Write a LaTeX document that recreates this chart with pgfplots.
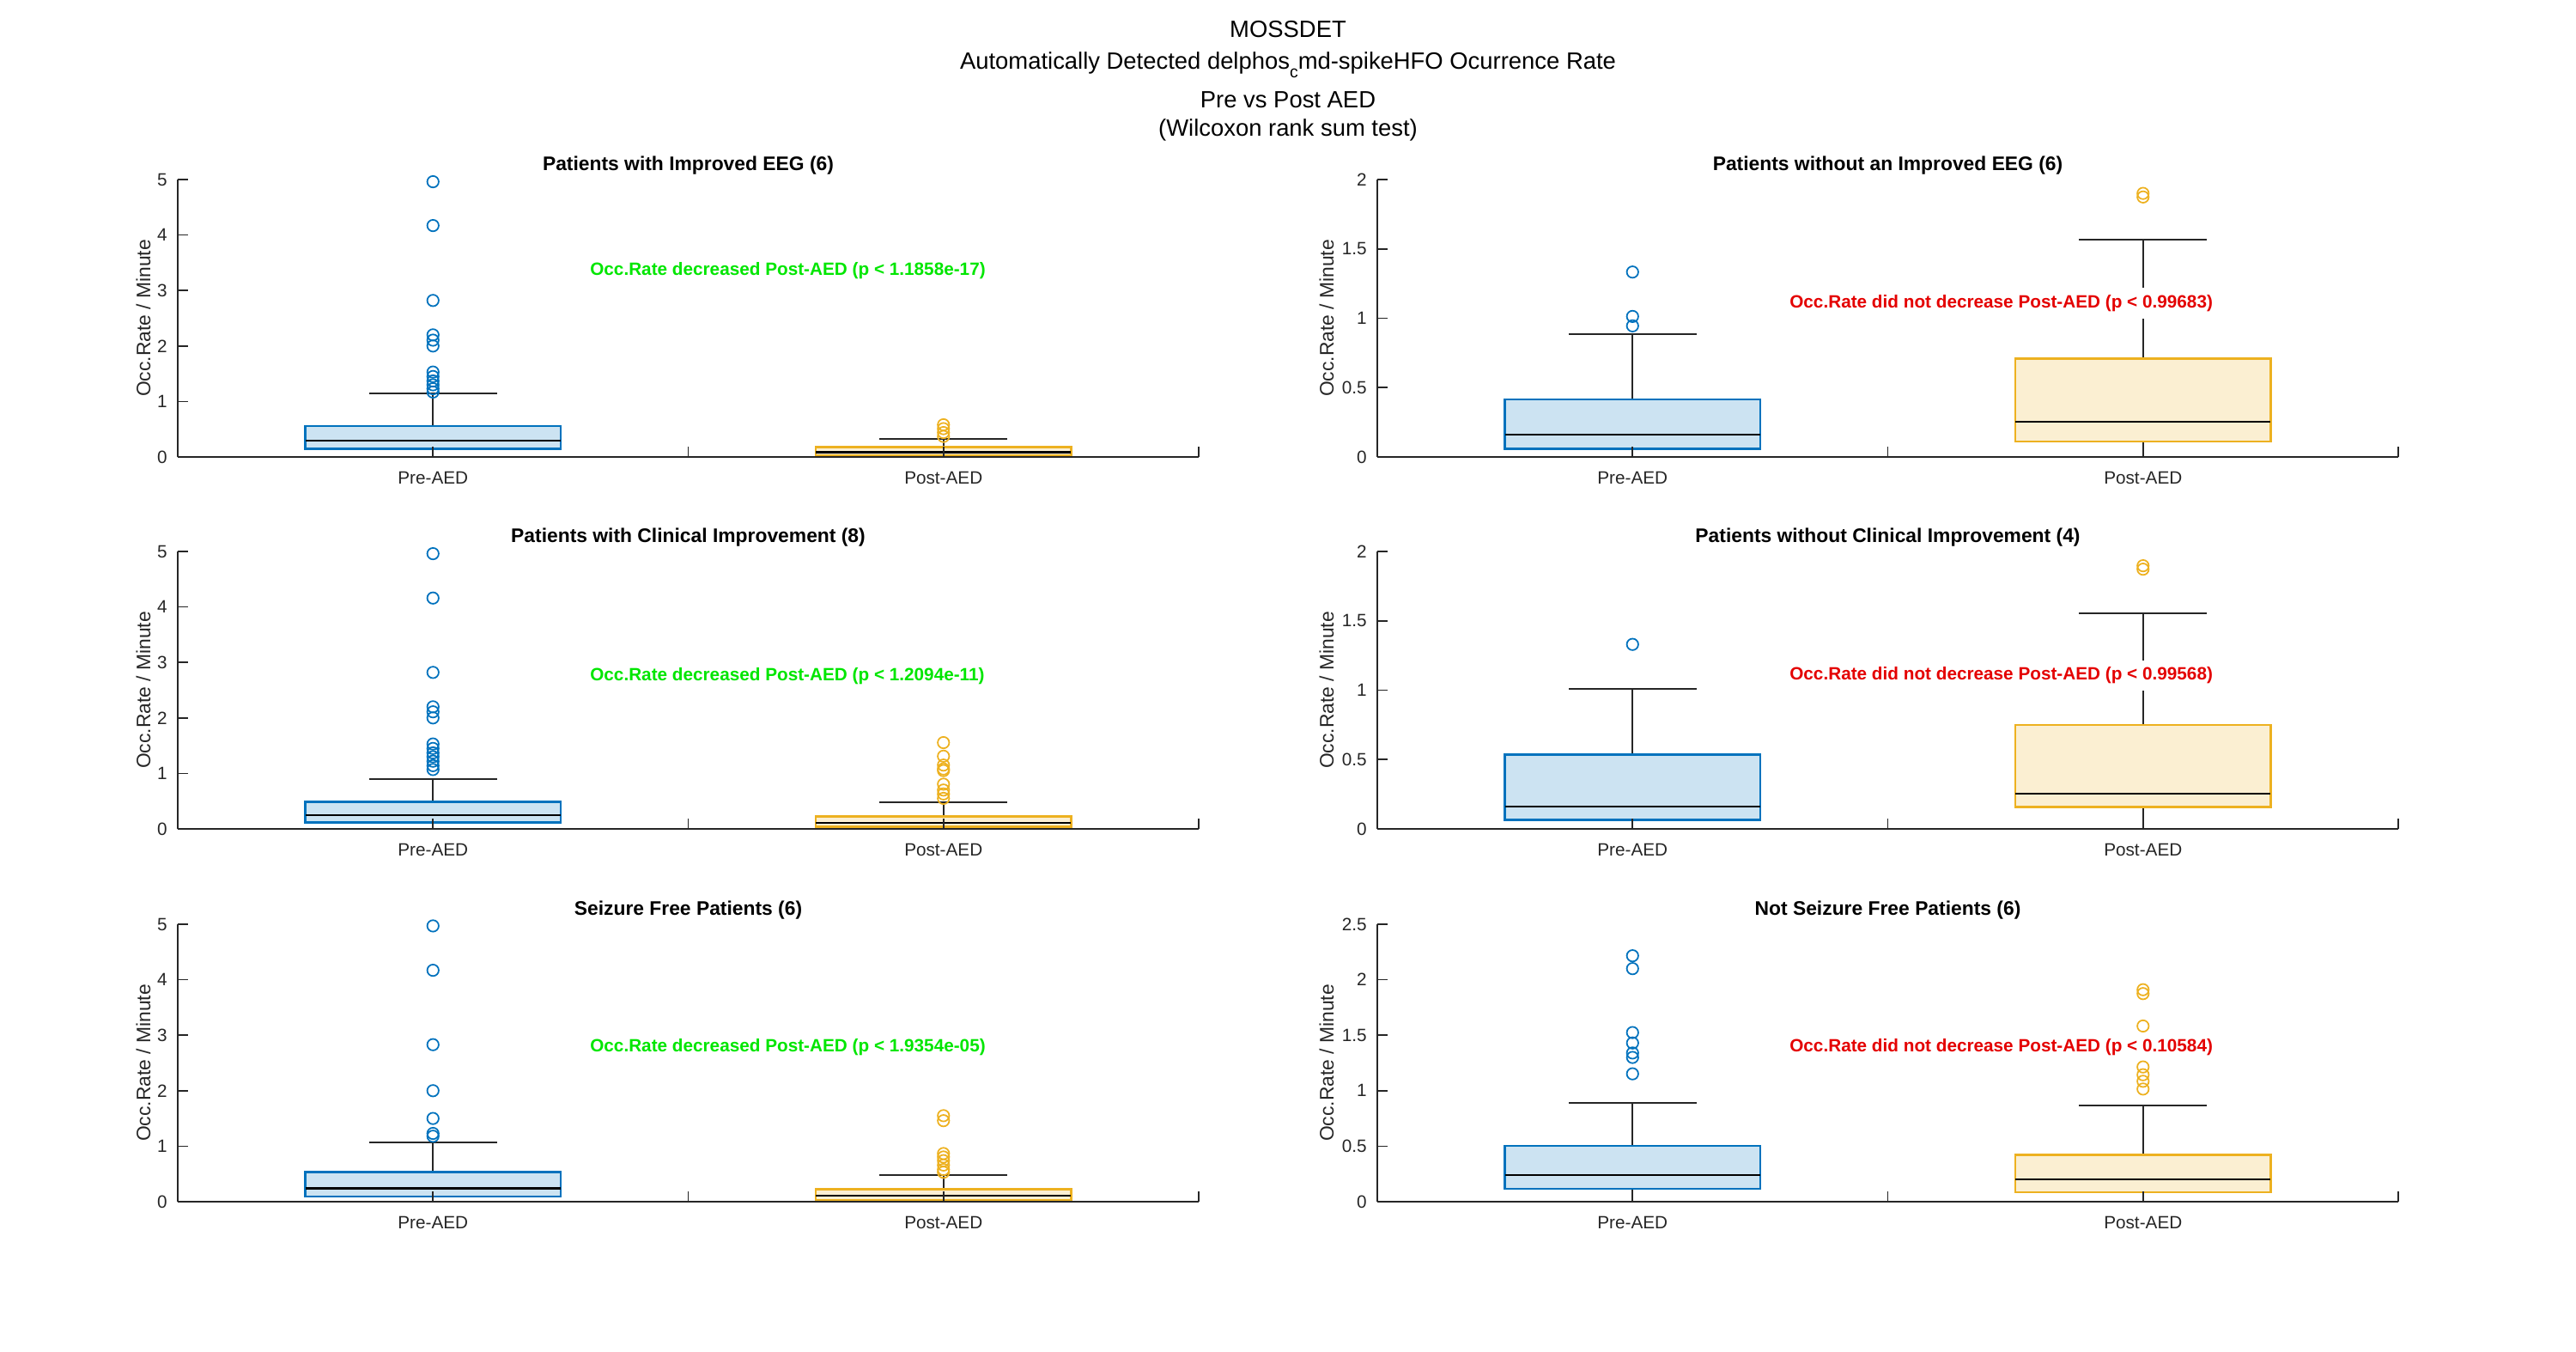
\documentclass[border=0pt]{standalone}
\usepackage{fontspec}
\setmainfont{Liberation Sans}
\usepackage{pgfplots}
\pgfplotsset{compat=1.18}
\usepgfplotslibrary{statistics}

\definecolor{mblue}{RGB}{0,114,189}
\definecolor{mbluel}{RGB}{204,227,242}
\definecolor{myel}{RGB}{237,177,32}
\definecolor{myell}{RGB}{251,239,210}
\definecolor{tgray}{RGB}{38,38,38}
\definecolor{sigg}{RGB}{0,230,0}
\definecolor{sigr}{RGB}{228,0,0}

\pgfplotsset{
  panel/.style={
    scale only axis, width=11.89cm, height=3.23cm,
    xmin=0.5, xmax=2.5, ymin=0,
    axis lines*=left, axis on top, clip=false,
    axis line style={draw=tgray, line width=0.45pt},
    tick align=inside, major tick length=0.12cm,
    tick style={draw=tgray, line width=0.45pt},
    xtick={1,1.5,2,2.5}, xticklabels={Pre-AED,,Post-AED,},
    ticklabel style={font=\fontsize{5.9}{7}\selectfont, text=tgray},
    xticklabel style={yshift=-0.05cm},
    /pgf/number format/assume math mode=true,
    ylabel={Occ.Rate / Minute},
    ylabel style={font=\fontsize{6.5}{7.5}\selectfont, text=tgray,
      at={(axis description cs:#1,0.5)}, anchor=center, rotate=0},
    every axis title shift=0pt,
    title style={font=\bfseries\fontsize{6.5}{7.5}\selectfont,
      at={(axis description cs:0.5,1)}, anchor=base, yshift=0.105cm},
    boxplot/draw direction=y,
    boxplot/box extend=0.5, boxplot/whisker extend=0.25,
    boxplot/every box/.style={line width=0.7pt},
    boxplot/every whisker/.style={draw=tgray, line width=0.5pt},
    boxplot/every median/.style={draw=black, line width=0.7pt},
  },
  lpanel/.style={panel=-0.0336},
  rpanel/.style={panel=-0.0497},
  pre/.style={draw=mblue, fill=mbluel, mark=o, mark size=1.9pt,
    mark options={draw=mblue, fill=none, line width=0.5pt, solid}},
  post/.style={draw=myel, fill=myell, mark=o, mark size=1.9pt,
    mark options={draw=myel, fill=none, line width=0.5pt, solid}},
}
\tikzset{
  sigtext/.style={anchor=west, fill=white, inner xsep=0.04cm, inner ysep=0.08cm,
    font=\bfseries\fontsize{5.9}{7}\selectfont},
}

\begin{document}
\begin{tikzpicture}
\path[use as bounding box] (0,0) rectangle (30,15.73);

% figure title
\node[anchor=base, font=\fontsize{7.8}{9}\selectfont] at (15,15.29) {MOSSDET};
\node[anchor=base, font=\fontsize{7.8}{9}\selectfont] at (15,14.92)
  {Automatically Detected delphos\raisebox{-2.6pt}{\fontsize{5.5}{6}\selectfont c}md-spikeHFO Ocurrence Rate};
\node[anchor=base, font=\fontsize{7.8}{9}\selectfont] at (15,14.47) {Pre vs Post AED};
\node[anchor=base, font=\fontsize{7.8}{9}\selectfont] at (15,14.14) {(Wilcoxon rank sum test)};

% row 1, left
\begin{axis}[lpanel, at={(2.07cm,10.41cm)}, anchor=south west,
  ymax=5, ytick={0,1,2,3,4,5}, title={Patients with Improved EEG (6)}]
\addplot[pre, boxplot prepared={draw position=1, lower whisker=0, lower quartile=0.15,
  median=0.29, upper quartile=0.557, upper whisker=1.14}]
  coordinates {(1,4.96) (1,4.17) (1,2.82) (1,2.20) (1,2.105) (1,2.0) (1,1.53)
               (1,1.45) (1,1.37) (1,1.30) (1,1.23) (1,1.17)};
\addplot[post, boxplot prepared={draw position=2, lower whisker=0, lower quartile=0.03,
  median=0.083, upper quartile=0.175, upper whisker=0.325}]
  coordinates {(2,0.58) (2,0.51) (2,0.44) (2,0.37)};
\node[sigtext, text=sigg] at (axis cs:1.30,3.36) {Occ.Rate decreased Post-AED (p < 1.1858e-17)};
\end{axis}

% row 1, right
\begin{axis}[rpanel, at={(16.04cm,10.41cm)}, anchor=south west,
  ymax=2, ytick={0,0.5,1,1.5,2}, title={Patients without an Improved EEG (6)}]
\addplot[pre, boxplot prepared={draw position=1, lower whisker=0, lower quartile=0.06,
  median=0.161, upper quartile=0.415, upper whisker=0.884}]
  coordinates {(1,1.333) (1,1.013) (1,0.945)};
\addplot[post, boxplot prepared={draw position=2, lower whisker=0, lower quartile=0.111,
  median=0.254, upper quartile=0.708, upper whisker=1.565}]
  coordinates {(2,1.90) (2,1.874)};
\node[sigtext, text=sigr] at (axis cs:1.30,1.108) {Occ.Rate did not decrease Post-AED (p < 0.99683)};
\end{axis}

% row 2, left
\begin{axis}[lpanel, at={(2.07cm,6.08cm)}, anchor=south west,
  ymax=5, ytick={0,1,2,3,4,5}, title={Patients with Clinical Improvement (8)}]
\addplot[pre, boxplot prepared={draw position=1, lower whisker=0, lower quartile=0.119,
  median=0.248, upper quartile=0.486, upper whisker=0.899}]
  coordinates {(1,4.96) (1,4.16) (1,2.82) (1,2.20) (1,2.11) (1,2.0) (1,1.53)
               (1,1.45) (1,1.37) (1,1.30) (1,1.22) (1,1.14) (1,1.07)};
\addplot[post, boxplot prepared={draw position=2, lower whisker=0, lower quartile=0.041,
  median=0.108, upper quartile=0.222, upper whisker=0.48}]
  coordinates {(2,1.555) (2,1.31) (2,1.15) (2,1.08) (2,1.05) (2,0.806)
               (2,0.70) (2,0.63) (2,0.55)};
\node[sigtext, text=sigg] at (axis cs:1.30,2.76) {Occ.Rate decreased Post-AED (p < 1.2094e-11)};
\end{axis}

% row 2, right
\begin{axis}[rpanel, at={(16.04cm,6.08cm)}, anchor=south west,
  ymax=2, ytick={0,0.5,1,1.5,2}, title={Patients without Clinical Improvement (4)}]
\addplot[pre, boxplot prepared={draw position=1, lower whisker=0, lower quartile=0.064,
  median=0.161, upper quartile=0.535, upper whisker=1.01}]
  coordinates {(1,1.33)};
\addplot[post, boxplot prepared={draw position=2, lower whisker=0, lower quartile=0.157,
  median=0.254, upper quartile=0.75, upper whisker=1.556}]
  coordinates {(2,1.897) (2,1.872)};
\node[sigtext, text=sigr] at (axis cs:1.30,1.106) {Occ.Rate did not decrease Post-AED (p < 0.99568)};
\end{axis}

% row 3, left
\begin{axis}[lpanel, at={(2.07cm,1.74cm)}, anchor=south west,
  ymax=5, ytick={0,1,2,3,4,5}, title={Seizure Free Patients (6)}]
\addplot[pre, boxplot prepared={draw position=1, lower whisker=0, lower quartile=0.093,
  median=0.238, upper quartile=0.532, upper whisker=1.074}]
  coordinates {(1,4.97) (1,4.17) (1,2.83) (1,2.0) (1,1.50) (1,1.23) (1,1.18)};
\addplot[post, boxplot prepared={draw position=2, lower whisker=0, lower quartile=0.031,
  median=0.108, upper quartile=0.222, upper whisker=0.48}]
  coordinates {(2,1.55) (2,1.46) (2,0.868) (2,0.806) (2,0.74) (2,0.66)
               (2,0.58) (2,0.53)};
\node[sigtext, text=sigg] at (axis cs:1.30,2.78) {Occ.Rate decreased Post-AED (p < 1.9354e-05)};
\end{axis}

% row 3, right
\begin{axis}[rpanel, at={(16.04cm,1.74cm)}, anchor=south west,
  ymax=2.5, ytick={0,0.5,1,1.5,2,2.5}, title={Not Seizure Free Patients (6)}]
\addplot[pre, boxplot prepared={draw position=1, lower whisker=0, lower quartile=0.116,
  median=0.24, upper quartile=0.504, upper whisker=0.891}]
  coordinates {(1,2.216) (1,2.10) (1,1.524) (1,1.43) (1,1.34) (1,1.30) (1,1.152)};
\addplot[post, boxplot prepared={draw position=2, lower whisker=0, lower quartile=0.085,
  median=0.201, upper quartile=0.421, upper whisker=0.868}]
  coordinates {(2,1.91) (2,1.875) (2,1.583) (2,1.214) (2,1.144) (2,1.085) (2,1.015)};
\node[sigtext, text=sigr] at (axis cs:1.30,1.39) {Occ.Rate did not decrease Post-AED (p < 0.10584)};
\end{axis}
\end{tikzpicture}
\end{document}
